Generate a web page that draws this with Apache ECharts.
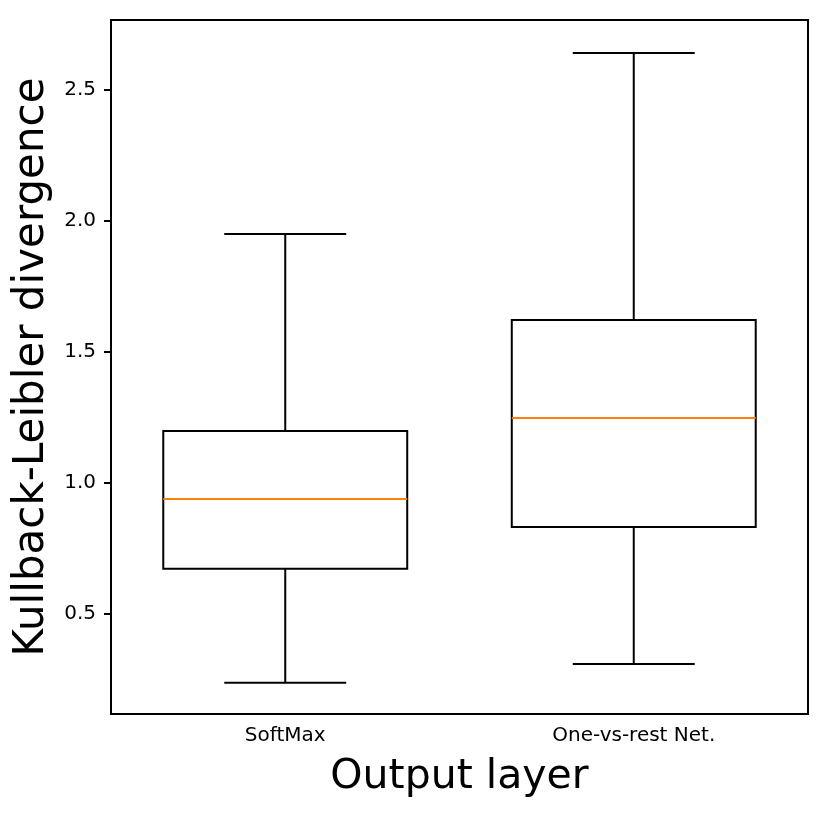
<!DOCTYPE html>
<html>
<head>
<meta charset="utf-8">
<script src="https://cdn.jsdelivr.net/npm/echarts@6/dist/echarts.min.js"></script>
<style>
html, body { margin: 0; padding: 0; background: #fff; }
#boxChart { width: 830px; height: 813px; }
</style>
</head>
<body>
<div id="boxChart"></div>
<script>
// box plot stats
var layerNames = ['SoftMax', 'One-vs-rest Net.'];
var whiskerLow = [0.237, 0.309];
var quartile1 = [0.672, 0.832];
var medians = [0.939, 1.248];
var quartile3 = [1.198, 1.622];
var whiskerHigh = [1.950, 2.641];
var yTicks = [0.5, 1.0, 1.5, 2.0, 2.5];

var boxData = layerNames.map(function (name, i) {
    return [i, whiskerLow[i], quartile1[i], medians[i], quartile3[i], whiskerHigh[i]];
});

function renderBox(params, api) {
    var idx = api.value(0);
    var bandW = api.size([1, 0])[0];
    var boxHalf = bandW * 0.35;
    var capHalf = bandW * 0.175;
    var low = api.coord([idx, api.value(1)]);
    var q1 = api.coord([idx, api.value(2)]);
    var med = api.coord([idx, api.value(3)]);
    var q3 = api.coord([idx, api.value(4)]);
    var high = api.coord([idx, api.value(5)]);
    var cx = low[0];
    var black = { stroke: '#000', lineWidth: 2, fill: null };
    return {
        type: 'group',
        children: [
            { type: 'line', shape: { x1: cx, y1: low[1], x2: cx, y2: q1[1] }, style: black },
            { type: 'line', shape: { x1: cx, y1: q3[1], x2: cx, y2: high[1] }, style: black },
            { type: 'line', shape: { x1: cx - capHalf, y1: low[1], x2: cx + capHalf, y2: low[1] }, style: black },
            { type: 'line', shape: { x1: cx - capHalf, y1: high[1], x2: cx + capHalf, y2: high[1] }, style: black },
            { type: 'rect', shape: { x: cx - boxHalf, y: q3[1], width: boxHalf * 2, height: q1[1] - q3[1] }, style: black },
            { type: 'line', shape: { x1: cx - boxHalf, y1: med[1], x2: cx + boxHalf, y2: med[1] },
              style: { stroke: '#ff7f0e', lineWidth: 2 } }
        ]
    };
}

option = {
    animation: false,
    backgroundColor: '#fff',
    grid: {
        left: 111,
        right: 22,
        top: 20,
        bottom: 99,
        show: true,
        borderColor: '#000',
        borderWidth: 2
    },
    xAxis: {
        type: 'category',
        data: layerNames,
        boundaryGap: true,
        name: 'Output layer',
        nameLocation: 'middle',
        nameGap: 43,
        nameTextStyle: { fontSize: 41, fontFamily: 'DejaVu Sans', color: '#000' },
        axisLine: { lineStyle: { color: '#000', width: 2 } },
        axisTick: { alignWithLabel: true, length: 7, lineStyle: { color: '#000', width: 2 } },
        axisLabel: { fontSize: 20, fontFamily: 'DejaVu Sans', color: '#000', margin: 12 },
        splitLine: { show: false }
    },
    yAxis: {
        type: 'value',
        min: 0.118,
        max: 2.767,
        name: 'Kullback-Leibler divergence',
        nameLocation: 'middle',
        nameGap: 52,
        nameTextStyle: { fontSize: 42, fontFamily: 'DejaVu Sans', color: '#000' },
        axisLine: { show: true, lineStyle: { color: '#000', width: 2 } },
        axisTick: { show: true, length: 7, customValues: yTicks, lineStyle: { color: '#000', width: 2 } },
        axisLabel: {
            fontSize: 20,
            fontFamily: 'DejaVu Sans',
            color: '#000',
            margin: 15,
            customValues: yTicks,
            formatter: function (v) { return v.toFixed(1); }
        },
        splitLine: { show: false }
    },
    series: [
        {
            type: 'custom',
            renderItem: renderBox,
            encode: { x: 0, y: [1, 2, 3, 4, 5] },
            data: boxData
        }
    ]
};
var myChart = echarts.init(document.getElementById('boxChart'));
myChart.setOption(option);
</script>
</body>
</html>
